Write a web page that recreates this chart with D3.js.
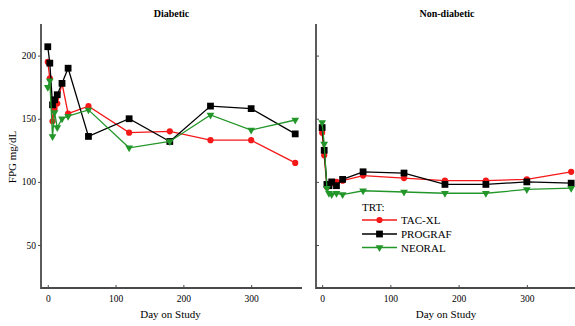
<!DOCTYPE html>
<html>
<head>
<meta charset="utf-8">
<script src="https://cdn.jsdelivr.net/npm/d3@7"></script>
<style>
  html, body { margin: 0; padding: 0; background: #fff; }
  svg { display: block; }
  text { font-family: "Liberation Serif", "Times New Roman", serif; fill: #000; }
</style>
</head>
<body>
<svg id="chart" width="575" height="326"></svg>
<script>
// Study visit days
const days = [0, 3, 7, 10, 14, 21, 30, 60, 120, 180, 240, 300, 365];

// Treatment groups (legend order)
const treatments = ["TAC-XL", "PROGRAF", "NEORAL"];

// Panels
const panels = ["Diabetic", "Non-diabetic"];

// Fasting plasma glucose (mg/dL), Diabetic panel
const diabeticTacXL   = [195, 182, 148, 158, 162, 178, 154, 160, 139, 140, 133, 133, 115];
const diabeticPrograf = [207, 194, 161, 165, 169, 178, 190, 136, 150, 132, 160, 158, 138];
const diabeticNeoral  = [175, 180, 136, 155, 143, 150, 152, 157, 127, 132, 153, 141, 149];

// Fasting plasma glucose (mg/dL), Non-diabetic panel
const nonDiabeticTacXL   = [139, 121, 96, 98, 99, 100, 101, 105, 103, 101, 101, 102, 108];
const nonDiabeticPrograf = [143, 125, 98, 97, 100, 97, 102, 108, 107, 98, 98, 100, 99];
const nonDiabeticNeoral  = [147, 130, 95, 91, 90, 91, 90, 93, 92, 91, 91, 94, 95];

// Axis ticks
const yTicks = [50, 100, 150, 200];
const xTicks = [0, 100, 200, 300];

const panelData = {
  "Diabetic": { "TAC-XL": diabeticTacXL, "PROGRAF": diabeticPrograf, "NEORAL": diabeticNeoral },
  "Non-diabetic": { "TAC-XL": nonDiabeticTacXL, "PROGRAF": nonDiabeticPrograf, "NEORAL": nonDiabeticNeoral }
};

const colors = { "TAC-XL": "#f51818", "PROGRAF": "#000000", "NEORAL": "#23962a" };
const symbols = { "TAC-XL": d3.symbolCircle, "PROGRAF": d3.symbolSquare, "NEORAL": d3.symbolTriangle };
const symSize = { "TAC-XL": 30, "PROGRAF": 46, "NEORAL": 26 };
const symRotate = { "TAC-XL": 0, "PROGRAF": 0, "NEORAL": 180 };
const drawOrder = ["TAC-XL", "PROGRAF", "NEORAL"];

const svg = d3.select("#chart");
const axisColor = "#4a4a4a";

const y = d3.scaleLinear().domain([16, 225]).range([288, 24]);

const panelLayout = [
  { name: "Diabetic", x: d3.scaleLinear().domain([-10, 375]).range([41, 302]), yLabels: true },
  { name: "Non-diabetic", x: d3.scaleLinear().domain([-9, 375]).range([316, 578]), yLabels: false }
];

panelLayout.forEach(p => {
  const g = svg.append("g");
  const x = p.x;
  const [x0, x1] = x.range();

  // Title
  g.append("text")
    .attr("x", (x0 + x1) / 2).attr("y", 17)
    .attr("text-anchor", "middle")
    .attr("font-size", 10).attr("font-weight", "bold")
    .text(p.name);

  // Y axis
  const yAxis = (p.yLabels ? d3.axisLeft(y) : d3.axisRight(y))
    .tickValues(yTicks).tickSize(3).tickPadding(2)
    .tickFormat(p.yLabels ? d3.format("d") : () => "");
  const ya = g.append("g").attr("transform", `translate(${x0},0)`).call(yAxis);
  ya.select(".domain").remove();
  ya.selectAll(".tick line").attr("stroke", axisColor).attr("stroke-width", 1);
  ya.selectAll(".tick text").attr("font-size", 9.5).attr("font-family", "Liberation Serif, serif");

  // X axis (ticks pointing inward)
  const xAxis = d3.axisBottom(x).tickValues(xTicks).tickSizeInner(-3).tickSizeOuter(0)
    .tickPadding(5).tickFormat(d3.format("d"));
  const xa = g.append("g").attr("transform", `translate(0,${y.range()[0]})`).call(xAxis);
  xa.select(".domain").remove();
  xa.selectAll(".tick line").attr("stroke", axisColor).attr("stroke-width", 1);
  xa.selectAll(".tick text").attr("font-size", 9.5).attr("font-family", "Liberation Serif, serif")
    .attr("dy", "0.9em");

  // Axis lines
  g.append("path")
    .attr("d", `M${x0},${y.range()[1]}V${y.range()[0]}H${x1}`)
    .attr("fill", "none").attr("stroke", axisColor).attr("stroke-width", 1.8);

  // X axis title
  g.append("text")
    .attr("x", (x0 + x1) / 2 - 1).attr("y", 318)
    .attr("text-anchor", "middle").attr("font-size", 11)
    .text("Day on Study");

  // Series
  const line = d3.line().x((d, i) => x(days[i])).y(d => y(d));
  drawOrder.forEach(t => {
    const vals = panelData[p.name][t];
    g.append("path").datum(vals)
      .attr("d", line)
      .attr("fill", "none").attr("stroke", colors[t]).attr("stroke-width", 1.3);
    g.selectAll(null).data(vals).enter().append("path")
      .attr("d", d3.symbol().type(symbols[t]).size(symSize[t]))
      .attr("transform", (d, i) => `translate(${x(days[i])},${y(d)}) rotate(${symRotate[t]})`)
      .attr("fill", colors[t]);
  });
});

// Y axis title
svg.append("text")
  .attr("transform", "translate(16,157) rotate(-90)")
  .attr("text-anchor", "middle").attr("font-size", 11)
  .text("FPG mg/dL");

// Legend
const legend = svg.append("g").attr("transform", "translate(362,0)");
legend.append("text").attr("x", 0).attr("y", 211).attr("font-size", 11).text("TRT:");
const rowY = [220, 234, 247.5];
treatments.forEach((t, i) => {
  const row = legend.append("g").attr("transform", `translate(0,${rowY[i]})`);
  row.append("line").attr("x1", 0).attr("x2", 35).attr("y1", 0).attr("y2", 0)
    .attr("stroke", colors[t]).attr("stroke-width", 1.3);
  row.append("path")
    .attr("d", d3.symbol().type(symbols[t]).size(symSize[t]))
    .attr("transform", `translate(17.5,0) rotate(${symRotate[t]})`)
    .attr("fill", colors[t]);
  row.append("text").attr("x", 39).attr("y", 4).attr("font-size", 11).text(t);
});
</script>
</body>
</html>
